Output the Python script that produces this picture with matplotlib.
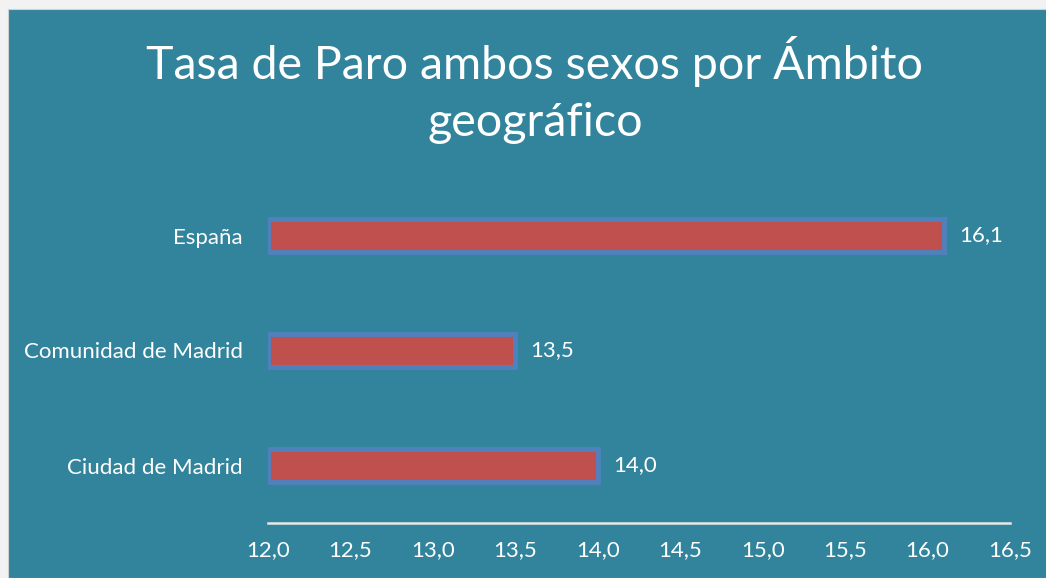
import matplotlib
matplotlib.use("Agg")
import matplotlib.pyplot as plt
from matplotlib.patches import Rectangle

categories = ["Ciudad de Madrid", "Comunidad de Madrid", "España"]
values = [14.0, 13.5, 16.1]
xticks = [12.0, 12.5, 13.0, 13.5, 14.0, 14.5, 15.0, 15.5, 16.0, 16.5]
title = "Tasa de Paro ambos sexos por Ámbito\ngeográfico"

BG = "#31849B"
W, H = 1046, 578
fig = plt.figure(figsize=(W / 100, H / 100), dpi=100, facecolor="#f2f2f2")
fig.patches.append(Rectangle((8 / W, 0), 1, 1 - 9 / H, transform=fig.transFigure,
                             facecolor=BG, edgecolor="#d0d0d0", lw=0.8, zorder=-10))

ax = fig.add_axes([268 / W, (578 - 523) / H, (1010 - 268) / W, (523 - 178) / H])
ax.set_zorder(5)
ax.set_facecolor("none")
base = 12.0
ax.barh(range(len(categories)), [v - base for v in values], left=base, height=0.29,
        color="#C0504D", edgecolor="#4F81BD", linewidth=3.5)
for i, v in enumerate(values):
    ax.annotate(f"{v:.1f}".replace(".", ","), xy=(v, i), xytext=(11, 0),
                textcoords="offset points", va="center", ha="left",
                color="white", fontsize=16, family="Lato")
ax.set_xlim(12.0, 16.5)
ax.set_ylim(-0.5, 2.5)
ax.set_xticks(xticks)
ax.set_xticklabels([f"{t:.1f}".replace(".", ",") for t in xticks])
ax.set_yticks(range(len(categories)))
ax.set_yticklabels(categories)
for lab in ax.get_xticklabels() + ax.get_yticklabels():
    lab.set_family("Lato")
    lab.set_fontsize(16)
    lab.set_color("white")
ax.tick_params(axis="x", length=0, pad=12)
ax.tick_params(axis="y", length=0, pad=18)
for s in ["top", "right", "left"]:
    ax.spines[s].set_visible(False)
ax.spines["bottom"].set_color("#e8e8e8")
ax.spines["bottom"].set_linewidth(1.8)

fig.text(535 / W, 1 - 90 / H, title, ha="center", va="center", color="white",
         fontsize=33.5, family="Lato", linespacing=1.45, zorder=6)

fig.savefig("out.png", dpi=100, facecolor=fig.get_facecolor())
